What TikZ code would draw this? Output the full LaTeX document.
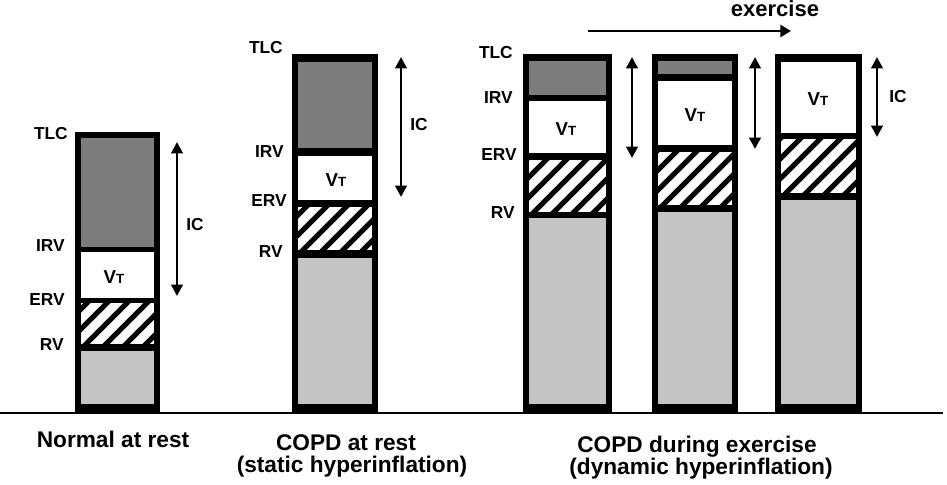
\documentclass[tikz,border=0pt]{standalone}
\usepackage{fontspec}
\setmainfont{Liberation Sans}
\usetikzlibrary{arrows.meta}

\definecolor{darkvol}{gray}{0.49}
\definecolor{lightvol}{gray}{0.77}

\tikzset{
  lungframe/.style={fill=black},
  volname/.style={anchor=east, inner sep=0pt, font=\bfseries\fontsize{13}{15}\selectfont},
  iclabel/.style={inner sep=0pt, font=\bfseries\fontsize{13}{15}\selectfont},
  vtlabel/.style={inner sep=0pt, font=\bfseries\fontsize{14}{16}\selectfont},
  hatchline/.style={line width=3.9pt},
  icarrow/.style={{Triangle[length=8.5pt,width=8.5pt]}-{Triangle[length=8.5pt,width=8.5pt]}, line width=2.1pt},
  exarrow/.style={-{Triangle[length=8pt,width=9pt]}, line width=2.2pt},
  caption/.style={anchor=base, inner sep=0pt, font=\bfseries\fontsize{17}{20}\selectfont},
}

% hatched box: x1, y1 (top), x2, y2 (bottom)
\newcommand{\hatchbox}[4]{
  \begin{scope}
    \clip (#1,#2) rectangle (#3,#4);
    \fill[white] (#1,#2) rectangle (#3,#4);
    \foreach \k in {0,20,...,160}
      \draw[hatchline] (#1-60+\k,#4+5) -- ++(80,-80);
  \end{scope}
}
\newcommand{\VT}{V{\fontsize{10}{12}\selectfont T}}

\begin{document}
\begin{tikzpicture}[x=0.75pt,y=-0.75pt]
  \useasboundingbox (0,0) rectangle (947,485);

  % normal at rest
  \fill[lungframe] (75,132) rectangle (160,412);
  \fill[darkvol] (81,138) rectangle (154,247);
  \fill[white] (81,252) rectangle (154,298);
  \hatchbox{81}{303}{154}{344}
  \fill[lightvol] (81,351) rectangle (154,404);

  % COPD at rest
  \fill[lungframe] (292,54) rectangle (378,412);
  \fill[darkvol] (298,62) rectangle (372,148);
  \fill[white] (298,156) rectangle (372,200);
  \hatchbox{298}{207}{372}{250}
  \fill[lightvol] (298,258) rectangle (372,404);

  % COPD during exercise
  \fill[lungframe] (523,54) rectangle (612,412);
  \fill[darkvol] (529,61) rectangle (606,95);
  \fill[white] (529,101) rectangle (606,153);
  \hatchbox{529}{160}{606}{212}
  \fill[lightvol] (529,218) rectangle (606,404);

  \fill[lungframe] (652,54) rectangle (738,412);
  \fill[darkvol] (658,61) rectangle (732,74);
  \fill[white] (658,81) rectangle (732,145);
  \hatchbox{658}{152}{732}{205}
  \fill[lightvol] (658,212) rectangle (732,404);

  \fill[lungframe] (775,54) rectangle (862,412);
  \fill[white] (781,62) rectangle (856,133);
  \hatchbox{781}{139}{856}{193}
  \fill[lightvol] (781,200) rectangle (856,404);

  % baseline
  \coordinate (base0) at (0,413);
  \coordinate (base1) at (943,413);
  \draw[line width=1.5pt] (base0) -- (base1);

  % volume labels
  \node[volname] (tlc1) at (68,134) {TLC};
  \node[volname] (irv1) at (65,246) {IRV};
  \node[volname] (erv1) at (65,300) {ERV};
  \node[volname] (rv1) at (64,345) {RV};

  \node[volname] (tlc2) at (283,48) {TLC};
  \node[volname] (irv2) at (284,152) {IRV};
  \node[volname] (erv2) at (287,201) {ERV};
  \node[volname] (rv2) at (283,252) {RV};

  \node[volname] (tlc3) at (513,53) {TLC};
  \node[volname] (irv3) at (513,98) {IRV};
  \node[volname] (erv3) at (517,155) {ERV};
  \node[volname] (rv3) at (515,213) {RV};

  % tidal volumes
  \node[vtlabel] (vt1) at (114,277) {\VT};
  \node[vtlabel] (vt2) at (336,180) {\VT};
  \node[vtlabel] (vt3a) at (566,129) {\VT};
  \node[vtlabel] (vt3b) at (695,115) {\VT};
  \node[vtlabel] (vt3c) at (818,99) {\VT};

  % inspiratory capacity
  \coordinate (ic1top) at (177,142); \coordinate (ic1bot) at (177,296);
  \coordinate (ic2top) at (401,57);  \coordinate (ic2bot) at (401,197);
  \coordinate (ic3atop) at (632,57); \coordinate (ic3abot) at (632,158);
  \coordinate (ic3btop) at (755,57); \coordinate (ic3bbot) at (755,149);
  \coordinate (ic3ctop) at (877,57); \coordinate (ic3cbot) at (877,137);
  \draw[icarrow] (ic1top) -- (ic1bot);
  \draw[icarrow] (ic2top) -- (ic2bot);
  \draw[icarrow] (ic3atop) -- (ic3abot);
  \draw[icarrow] (ic3btop) -- (ic3bbot);
  \draw[icarrow] (ic3ctop) -- (ic3cbot);
  \node[iclabel] (ic1) at (195,225) {IC};
  \node[iclabel] (ic2) at (419,125) {IC};
  \node[iclabel] (ic3) at (898,97) {IC};

  % exercise
  \coordinate (exstart) at (588,31);
  \coordinate (exend) at (791,31);
  \draw[exarrow] (exstart) -- (exend);
  \node[anchor=base, inner sep=0pt, font=\bfseries\fontsize{16.5}{18}\selectfont] (exercise) at (775,17) {exercise};

  % captions
  \node[caption] (normal) at (113,447) {Normal at rest};
  \node[caption] (copdrest) at (346,450) {COPD at rest};
  \node[caption] (copdrest2) at (352,472) {(static hyperinflation)};
  \node[caption] (copdex) at (697,452) {COPD during exercise};
  \node[caption] (copdex2) at (701,474) {(dynamic hyperinflation)};
\end{tikzpicture}
\end{document}
